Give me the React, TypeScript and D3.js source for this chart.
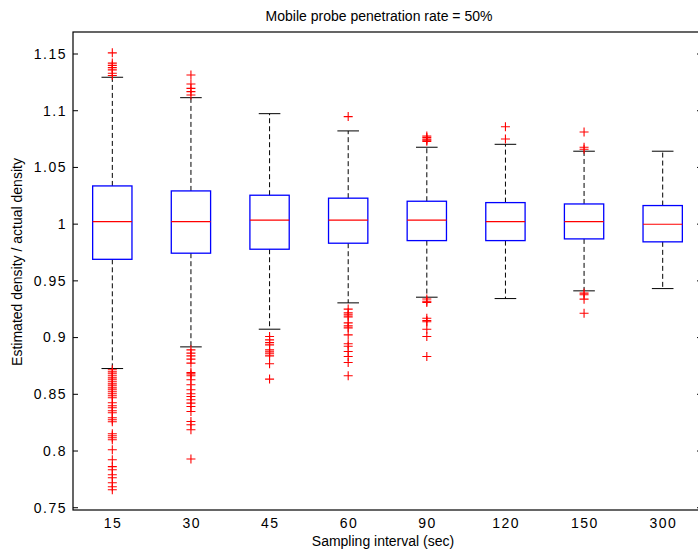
import React from 'react';
import * as d3 from 'd3';

// sampling intervals (sec)
const categories = ['15', '30', '45', '60', '90', '120', '150', '300'];

const q1 = [0.969, 0.9744, 0.9779, 0.9832, 0.9855, 0.9855, 0.987, 0.9844];
const medians = [1.0022, 1.0022, 1.0035, 1.0035, 1.0035, 1.0023, 1.0023, 0.9999];
const q3 = [1.0337, 1.0293, 1.0255, 1.0229, 1.0202, 1.019, 1.0178, 1.0164];
const whiskerLow = [0.8727, 0.8918, 0.9074, 0.9306, 0.9356, 0.9344, 0.9412, 0.9432];
const whiskerHigh = [1.1295, 1.1115, 1.0974, 1.0822, 1.0678, 1.0704, 1.0643, 1.0643];

const outliers15 = [
  1.151, 1.142, 1.140, 1.138, 1.136, 1.133, 1.131,
  0.8716, 0.8698, 0.8681, 0.8663, 0.8645, 0.8628, 0.8610, 0.8592, 0.8575, 0.8557,
  0.8540, 0.8522, 0.8505, 0.8487, 0.8469, 0.8425, 0.8399, 0.8381, 0.8355, 0.8337,
  0.8293, 0.8275, 0.8258, 0.8152, 0.8134, 0.8117, 0.8099, 0.8011, 0.7923, 0.7862,
  0.7835, 0.7791, 0.7764, 0.7720, 0.7685, 0.7659
];
const outliers30 = [
  1.1315, 1.1235, 1.1197, 1.1168, 1.1139,
  0.8892, 0.8863, 0.8839, 0.8810, 0.8775, 0.8692, 0.8680, 0.8663, 0.8628, 0.8584,
  0.8540, 0.8505, 0.8481, 0.8452, 0.8422, 0.8393, 0.8348, 0.8260, 0.8231, 0.8187,
  0.7929
];
const outliers45 = [0.9009, 0.8980, 0.8956, 0.8936, 0.8892, 0.8874, 0.8857, 0.8839, 0.8769, 0.8634];
const outliers60 = [
  1.0948,
  0.9251, 0.9218, 0.9200, 0.9183, 0.9130, 0.9103, 0.9086, 0.9024, 0.8945, 0.8923,
  0.8877, 0.8833, 0.8780, 0.8663
];
const outliers90 = [
  1.0777, 1.0765, 1.0750, 1.0740, 1.0730,
  0.9340, 0.9320, 0.9310, 0.9170, 0.9150, 0.9140, 0.9074, 0.9009, 0.8833
];
const outliers120 = [1.0859, 1.0751];
const outliers150 = [1.0813, 1.0678, 1.066, 0.9392, 0.9377, 0.9339, 0.9215];
const outliers300: number[] = [];
const outliers = [outliers15, outliers30, outliers45, outliers60, outliers90, outliers120, outliers150, outliers300];

const yTicks = [0.75, 0.8, 0.85, 0.9, 0.95, 1, 1.05, 1.1, 1.15];

const W = 698;
const H = 554;
const left = 73, right = 702, top = 32, bottom = 510;
const font = '"Liberation Sans", Arial, Helvetica, sans-serif';

export default function App() {
  const x = d3.scaleLinear().domain([0.5, 8.5]).range([left, right]);
  const y = d3.scaleLinear().domain([0.748, 1.1694]).range([bottom, top]);
  const boxW = x(1.25) - x(1);
  const capW = x(1.1375) - x(1);
  const fmt = (v: number) => String(+v.toFixed(2));

  return (
    <svg width={W} height={H} style={{ position: 'absolute', left: 0, top: 0, background: '#fff' }}
      fontFamily={font}>
      <rect x={0} y={0} width={W} height={H} fill="#fff" />
      {/* axes frame */}
      <rect x={left} y={top} width={right - left} height={bottom - top} fill="none" stroke="#000" strokeWidth={1.2} />
      {yTicks.map(t => (
        <g key={t}>
          <line x1={left} x2={left + 5} y1={y(t)} y2={y(t)} stroke="#000" />
          <line x1={right} x2={right - 5} y1={y(t)} y2={y(t)} stroke="#000" />
          <text x={left - 6} y={y(t)} dy="0.35em" textAnchor="end" fontSize={14} letterSpacing={1.5}>{fmt(t)}</text>
        </g>
      ))}
      {categories.map((c, i) => (
        <text key={c} x={x(i + 1) + 0.75} y={bottom + 18} textAnchor="middle" fontSize={14} letterSpacing={1.5}>{c}</text>
      ))}
      {categories.map((c, i) => {
        const cx = x(i + 1);
        return (
          <g key={'b' + c}>
            <line x1={cx} x2={cx} y1={y(q3[i])} y2={y(whiskerHigh[i])} stroke="#000" strokeDasharray="5,3" />
            <line x1={cx} x2={cx} y1={y(q1[i])} y2={y(whiskerLow[i])} stroke="#000" strokeDasharray="5,3" />
            <line x1={cx - capW} x2={cx + capW} y1={y(whiskerHigh[i])} y2={y(whiskerHigh[i])} stroke="#000" />
            <line x1={cx - capW} x2={cx + capW} y1={y(whiskerLow[i])} y2={y(whiskerLow[i])} stroke="#000" />
            <rect x={cx - boxW} y={y(q3[i])} width={boxW * 2} height={y(q1[i]) - y(q3[i])}
              fill="none" stroke="#0000ff" strokeWidth={1.3} />
            <line x1={cx - boxW} x2={cx + boxW} y1={y(medians[i])} y2={y(medians[i])} stroke="#ff0000" strokeWidth={1.2} />
            {outliers[i].map((v, j) => (
              <path key={j} d={`M${cx - 4.5},${y(v)}H${cx + 4.5}M${cx},${y(v) - 4.5}V${y(v) + 4.5}`}
                stroke="#ff0000" strokeWidth={1.1} fill="none" />
            ))}
          </g>
        );
      })}
      <text x={379} y={21} textAnchor="middle" fontSize={14}>Mobile probe penetration rate = 50%</text>
      <text x={383} y={546} textAnchor="middle" fontSize={14}>Sampling interval (sec)</text>
      <text transform={`translate(22,262) rotate(-90)`} textAnchor="middle" fontSize={14}>
        Estimated density / actual density
      </text>
    </svg>
  );
}
